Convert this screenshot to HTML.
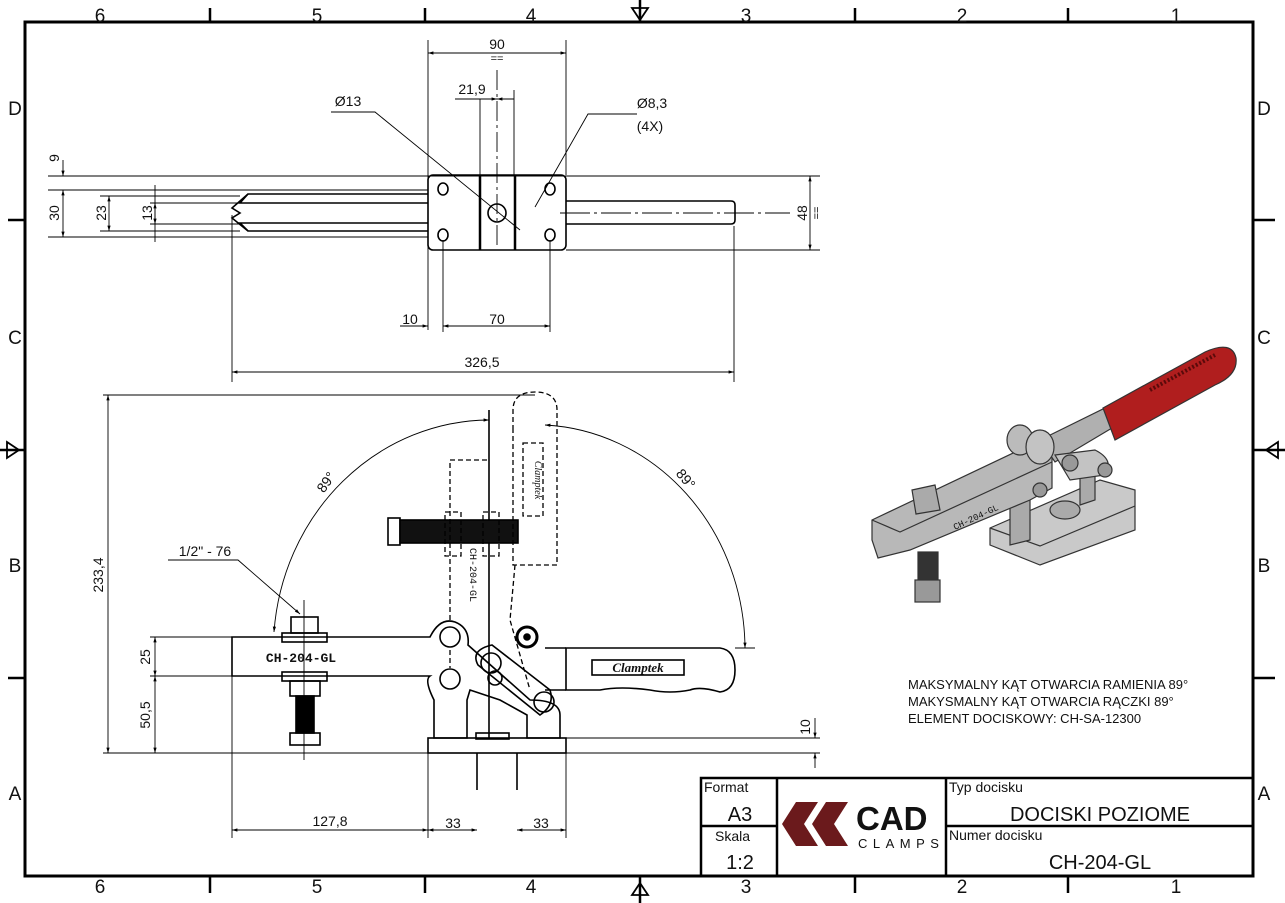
<!DOCTYPE html>
<html><head><meta charset="utf-8"><style>
html,body{margin:0;padding:0;background:#fff}
svg{display:block}
text{font-family:"Liberation Sans","DejaVu Sans",sans-serif;fill:#111}
</style></head><body>
<svg width="1285" height="903" viewBox="0 0 1285 903" xmlns="http://www.w3.org/2000/svg">
<defs>
<marker id="a" viewBox="0 0 10 10" refX="10" refY="5" markerWidth="8" markerHeight="6" orient="auto-start-reverse"><path d="M0,2 L10,5 L0,8z" fill="#000"/></marker>
</defs>
<rect x="25" y="22" width="1228" height="854" fill="none" stroke="#000" stroke-width="3"/>
<g stroke="#000" stroke-width="2.5">
<line x1="210" y1="8" x2="210" y2="22"/><line x1="425" y1="8" x2="425" y2="22"/><line x1="855" y1="8" x2="855" y2="22"/><line x1="1068" y1="8" x2="1068" y2="22"/>
<line x1="210" y1="876" x2="210" y2="893"/><line x1="425" y1="876" x2="425" y2="893"/><line x1="855" y1="876" x2="855" y2="893"/><line x1="1068" y1="876" x2="1068" y2="893"/>
<line x1="8" y1="220" x2="25" y2="220"/><line x1="8" y1="678" x2="25" y2="678"/><line x1="1253" y1="220" x2="1275" y2="220"/><line x1="1253" y1="678" x2="1275" y2="678"/>
<line x1="640" y1="0" x2="640" y2="22"/><line x1="640" y1="876" x2="640" y2="903"/><line x1="0" y1="450" x2="25" y2="450"/><line x1="1253" y1="450" x2="1285" y2="450"/>
</g>
<g fill="none" stroke="#000" stroke-width="1.8">
<path d="M632,8 L640,20 L648,8z"/><path d="M632,895 L640,883 L648,895z"/><path d="M7,442 L19,450 L7,458z"/><path d="M1278,442 L1266,450 L1278,458z"/>
</g>
<g font-size="19" text-anchor="middle">
<text x="100" y="22">6</text><text x="317" y="22">5</text><text x="531" y="22">4</text><text x="746" y="22">3</text><text x="962" y="22">2</text><text x="1176" y="22">1</text>
<text x="100" y="893">6</text><text x="317" y="893">5</text><text x="531" y="893">4</text><text x="746" y="893">3</text><text x="962" y="893">2</text><text x="1176" y="893">1</text>
<text x="15" y="115">D</text><text x="15" y="344">C</text><text x="15" y="572">B</text><text x="15" y="800">A</text>
<text x="1264" y="115">D</text><text x="1264" y="344">C</text><text x="1264" y="572">B</text><text x="1264" y="800">A</text>
</g>
<g stroke="#000" stroke-width="2.5" fill="none">
<rect x="701" y="778" width="552" height="98"/>
<line x1="777" y1="778" x2="777" y2="876"/><line x1="946" y1="778" x2="946" y2="876"/>
<line x1="701" y1="826" x2="777" y2="826"/><line x1="946" y1="826" x2="1253" y2="826"/>
</g>
<g font-size="14"><text x="704" y="792">Format</text><text x="715" y="841">Skala</text><text x="949" y="792">Typ docisku</text><text x="949" y="840">Numer docisku</text></g>
<g font-size="20" text-anchor="middle"><text x="740" y="821">A3</text><text x="740" y="869">1:2</text><text x="1100" y="821">DOCISKI POZIOME</text><text x="1100" y="869">CH-204-GL</text></g>
<path d="M796,802 L818,802 L804,824 L818,846 L796,846 L782,824z" fill="#6b1a1c"/>
<path d="M826,802 L848,802 L834,824 L848,846 L826,846 L812,824z" fill="#6b1a1c"/>
<text x="856" y="830" font-size="33" font-weight="bold">CAD</text>
<text x="858" y="848" font-size="13" letter-spacing="5.5">CLAMPS</text>
<g font-size="13"><text x="908" y="689">MAKSYMALNY KĄT OTWARCIA RAMIENIA 89°</text><text x="908" y="706">MAKYSMALNY KĄT OTWARCIA RĄCZKI 89°</text><text x="908" y="723">ELEMENT DOCISKOWY: CH-SA-12300</text></g>

<g fill="none" stroke="#000" stroke-width="1.6">
<rect x="428" y="175" width="138" height="75" rx="5"/>
<line x1="480" y1="175" x2="480" y2="250" stroke-width="2.5"/><line x1="515" y1="175" x2="515" y2="250" stroke-width="2.5"/>
<path d="M428,194 L248,194 L240,203 L248,203 L428,203"/><path d="M428,231 L248,231 L240,223 L248,223 L428,223"/>
<path d="M248,194 L232,208 L240,213 L232,218 L248,231" />
<path d="M566,201 L731,201 Q735,201 735,205 L735,220 Q735,224 731,224 L566,224"/>
<ellipse cx="443" cy="189" rx="5" ry="6"/><ellipse cx="550" cy="189" rx="5" ry="6"/><ellipse cx="443" cy="235" rx="5" ry="6"/><ellipse cx="550" cy="235" rx="5" ry="6"/>
<circle cx="497" cy="213" r="9"/>
</g>
<g stroke="#000" stroke-width="0.9" fill="none">
<line x1="48" y1="176" x2="820" y2="176"/><line x1="48" y1="190" x2="428" y2="190"/><line x1="48" y1="237" x2="428" y2="237"/><line x1="566" y1="250" x2="820" y2="250"/>
<line x1="100" y1="196" x2="240" y2="196"/><line x1="100" y1="231" x2="240" y2="231"/>
<line x1="150" y1="203" x2="240" y2="203"/><line x1="150" y1="224" x2="240" y2="224"/>
<line x1="155" y1="185" x2="155" y2="242"/>
<line x1="63" y1="160" x2="63" y2="176" marker-end="url(#a)"/><line x1="63" y1="190" x2="63" y2="237" marker-start="url(#a)" marker-end="url(#a)"/>
<line x1="109" y1="196" x2="109" y2="231" marker-start="url(#a)" marker-end="url(#a)"/>
<line x1="155" y1="203" x2="155" y2="224" marker-start="url(#a)" marker-end="url(#a)"/>
<line x1="810" y1="176" x2="810" y2="250" marker-start="url(#a)" marker-end="url(#a)"/>
<line x1="560" y1="213" x2="790" y2="213" stroke-dasharray="30,4,3,4"/>
<line x1="428" y1="40" x2="428" y2="330"/><line x1="566" y1="40" x2="566" y2="175"/>
<line x1="428" y1="53" x2="566" y2="53" marker-start="url(#a)" marker-end="url(#a)"/>
<line x1="497" y1="70" x2="497" y2="245" stroke-dasharray="20,4,3,4"/><line x1="514" y1="90" x2="514" y2="175"/><line x1="480" y1="99" x2="480" y2="175"/>
<line x1="455" y1="99" x2="480" y2="99"/><line x1="480" y1="99" x2="497" y2="99" marker-end="url(#a)"/><line x1="497" y1="99" x2="514" y2="99" marker-start="url(#a)"/>
<path d="M331,112 L375,112 L520,230"/><path d="M535,207 L588,114 L637,114"/>
<line x1="443" y1="240" x2="443" y2="332"/><line x1="550" y1="240" x2="550" y2="332"/>
<line x1="400" y1="326" x2="428" y2="326" marker-end="url(#a)"/><line x1="443" y1="326" x2="550" y2="326" marker-start="url(#a)" marker-end="url(#a)"/>
<line x1="232" y1="215" x2="232" y2="382"/><line x1="734" y1="226" x2="734" y2="382"/>
<line x1="232" y1="372" x2="734" y2="372" marker-start="url(#a)" marker-end="url(#a)"/>
</g>
<g font-size="14" text-anchor="middle">
<text x="497" y="49">90</text><text x="497" y="62" font-size="11">==</text><text x="472" y="94">21,9</text>
<text x="348" y="106">Ø13</text><text x="652" y="108">Ø8,3</text><text x="650" y="131">(4X)</text>
<text x="410" y="324">10</text><text x="497" y="324">70</text><text x="482" y="367">326,5</text>
<text transform="translate(59,158) rotate(-90)">9</text><text transform="translate(59,213) rotate(-90)">30</text>
<text transform="translate(106,213) rotate(-90)">23</text><text transform="translate(152,213) rotate(-90)">13</text>
<text transform="translate(807,213) rotate(-90)">48</text><text transform="translate(820,213) rotate(-90)" font-size="11">==</text>
</g>

<g fill="none" stroke="#000" stroke-width="1.6">
<path d="M232,637 L430,637 Q440,617 455,622 Q470,628 468,645 L530,700 Q560,700 560,715 L560,738 L527,738 L527,715 L500,700 L470,690 L467,700 L467,738 L434,738 L434,700 Q424,680 430,676 L232,676 Z"/>
<rect x="428" y="738" width="138" height="15"/><rect x="476" y="733" width="33" height="6"/>
<line x1="477" y1="753" x2="477" y2="790"/><line x1="517" y1="753" x2="517" y2="790"/>
<circle cx="450" cy="637" r="10"/><circle cx="450" cy="679" r="10"/>
<path d="M478,665 L540,715 Q555,705 550,690 L492,645 Q470,650 478,665z"/>
<circle cx="491" cy="663" r="10"/><circle cx="495" cy="678" r="7"/><circle cx="544" cy="702" r="10"/>
<circle cx="527" cy="637" r="10" stroke-width="3"/><circle cx="527" cy="637" r="3" fill="#000"/>
<path d="M566,648 L720,648 Q735,650 735,670 Q735,690 720,692 Q700,686 690,690 Q670,694 650,690 Q620,686 600,690 L566,690 Z"/>
<line x1="545" y1="648" x2="566" y2="648"/><line x1="545" y1="690" x2="566" y2="690"/>
<rect x="592" y="660" width="92" height="15"/>
<rect x="291" y="617" width="27" height="16"/><rect x="282" y="633" width="45" height="9"/>
<rect x="282" y="672" width="45" height="9"/><rect x="290" y="681" width="30" height="15"/>
<rect x="296" y="696" width="18" height="37" fill="#000"/><rect x="290" y="733" width="30" height="12"/>
<line x1="489" y1="410" x2="489" y2="738"/>
<rect x="388" y="518" width="12" height="27"/><rect x="400" y="520" width="118" height="23" fill="#111"/>
</g>
<g fill="none" stroke="#000" stroke-width="1.3" stroke-dasharray="5,3">
<path d="M513,430 L513,410 Q513,392 535,392 Q557,392 557,410 L557,565 L513,565 Z"/>
<rect x="523" y="443" width="20" height="73"/>
<path d="M450,620 L450,460 L489,460"/><rect x="445" y="512" width="16" height="44"/><rect x="483" y="512" width="16" height="44"/>
<path d="M515,565 L510,620 L530,690"/><path d="M450,650 L450,668"/>
</g>
<g font-size="13" text-anchor="middle">
<text x="301" y="662" style="font-family:'Liberation Mono'" font-weight="bold">CH-204-GL</text>
<text x="638" y="672" font-style="italic" font-weight="bold" style="font-family:'Liberation Serif'">Clamptek</text>
<text transform="translate(470,575) rotate(90)" font-size="10" style="font-family:'Liberation Mono'">CH-204-GL</text>
<text transform="translate(535,480) rotate(90)" font-size="10" style="font-family:'Liberation Serif'" font-style="italic">Clamptek</text>
</g>
<g fill="none" stroke="#000" stroke-width="0.9">
<path d="M274,632 A217,230 0 0 1 489,420" marker-start="url(#a)" marker-end="url(#a)"/>
<path d="M545,425 A210,225 0 0 1 745,648" marker-start="url(#a)" marker-end="url(#a)"/>
<line x1="735" y1="648" x2="755" y2="648"/>
<line x1="103" y1="395" x2="535" y2="395"/><line x1="103" y1="753" x2="820" y2="753"/>
<line x1="150" y1="637" x2="232" y2="637"/><line x1="150" y1="676" x2="232" y2="676"/><line x1="566" y1="738" x2="820" y2="738"/>
<line x1="108" y1="395" x2="108" y2="753" marker-start="url(#a)" marker-end="url(#a)"/>
<line x1="155" y1="637" x2="155" y2="676" marker-start="url(#a)" marker-end="url(#a)"/>
<line x1="155" y1="676" x2="155" y2="753" marker-start="url(#a)" marker-end="url(#a)"/>
<line x1="815" y1="718" x2="815" y2="738" marker-end="url(#a)"/><line x1="815" y1="768" x2="815" y2="753" marker-end="url(#a)"/>
<line x1="232" y1="676" x2="232" y2="838"/><line x1="428" y1="753" x2="428" y2="838"/><line x1="566" y1="753" x2="566" y2="838"/>
<line x1="232" y1="830" x2="428" y2="830" marker-start="url(#a)" marker-end="url(#a)"/>
<line x1="428" y1="830" x2="477" y2="830" marker-start="url(#a)" marker-end="url(#a)"/>
<line x1="517" y1="830" x2="566" y2="830" marker-start="url(#a)" marker-end="url(#a)"/>
<path d="M168,560 L238,560 L300,614" marker-end="url(#a)"/>
<line x1="304" y1="600" x2="304" y2="760"/>
</g>
<g font-size="14" text-anchor="middle">
<text x="205" y="556">1/2" - 76</text><text x="330" y="826">127,8</text><text x="453" y="828">33</text><text x="541" y="828">33</text>
<text transform="translate(103,575) rotate(-90)">233,4</text><text transform="translate(150,657) rotate(-90)">25</text>
<text transform="translate(150,715) rotate(-90)">50,5</text><text transform="translate(810,727) rotate(-90)">10</text>
<text transform="translate(330,485) rotate(-55)">89°</text><text transform="translate(682,482) rotate(50)">89°</text>
</g>

<!-- 3D view -->
<g stroke="#333" stroke-width="1.2">
<path d="M990,528 L1100,480 L1135,490 L1135,530 L1040,565 L990,545 Z" fill="#c9c9c9"/>
<path d="M990,528 L1040,546 L1135,506" fill="none"/>
<ellipse cx="1065" cy="510" rx="15" ry="9" fill="#aaa"/>
<path d="M1010,495 L1030,488 L1030,540 L1010,545 Z" fill="#aaa"/>
<path d="M1080,478 L1095,473 L1095,500 L1080,505 Z" fill="#aaa"/>
<path d="M872,520 L1030,445 L1052,452 L1052,488 L1030,500 L910,550 L878,558 L872,540 Z" fill="#b8b8b8"/>
<path d="M872,520 L900,532 L1052,462" fill="none"/>
<path d="M1040,440 L1105,408 L1112,428 L1055,462 Z" fill="#b0b0b0"/>
<path d="M1103,408 L1205,352 Q1232,340 1236,358 Q1238,375 1215,385 L1115,440 Z" fill="#b01e1e"/>
<path d="M1150,390 L1215,355" stroke="#5a0a0a" fill="none" stroke-dasharray="2,2" stroke-width="4"/>
<ellipse cx="1020" cy="440" rx="13" ry="15" fill="#bbb"/><ellipse cx="1040" cy="447" rx="14" ry="17" fill="#c3c3c3"/>
<path d="M1055,455 L1095,450 Q1115,460 1105,475 L1070,480 Z" fill="#c3c3c3"/>
<circle cx="1070" cy="463" r="8" fill="#999"/><circle cx="1105" cy="470" r="7" fill="#999"/><circle cx="1040" cy="490" r="7" fill="#999"/>
<path d="M912,490 L935,485 L940,510 L916,514 Z" fill="#aaa"/>
<rect x="918" y="552" width="20" height="30" fill="#333"/><rect x="915" y="580" width="25" height="22" fill="#999"/>
</g>
<text x="955" y="530" font-size="9" transform="rotate(-25 955 530)" style="font-family:'Liberation Mono'">CH-204-GL</text>
</svg>
</body></html>
